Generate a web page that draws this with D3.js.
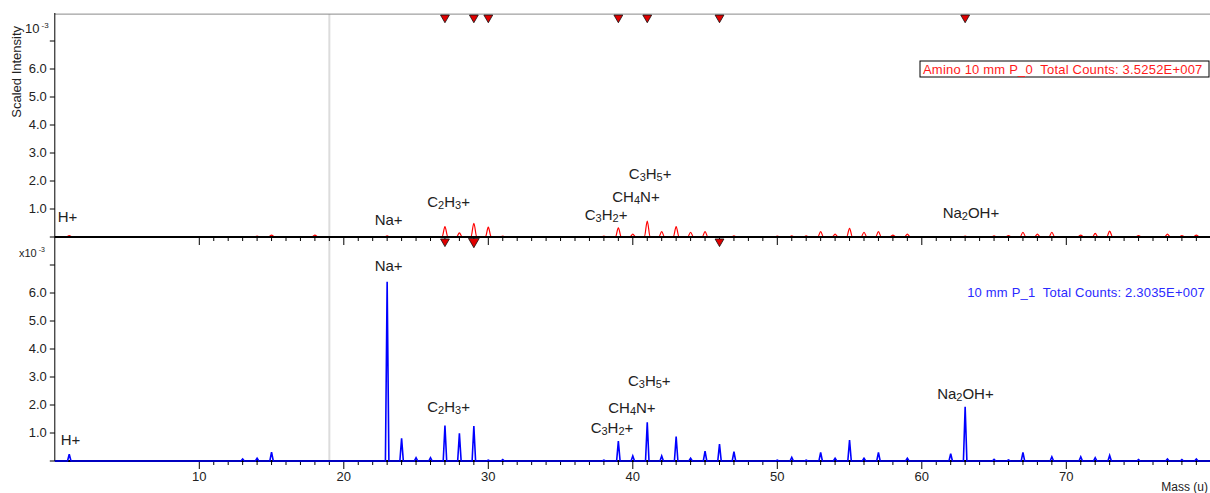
<!DOCTYPE html>
<html>
<head>
<meta charset="utf-8">
<script src="https://cdn.jsdelivr.net/npm/d3@7"></script>
<style>
body{margin:0;background:#fff}
svg{display:block;font-family:"Liberation Sans",Arial,sans-serif}
.pre{white-space:pre}
</style>
</head>
<body>
<svg id="chart" width="1210" height="493"></svg>
<script>
// intensities are in units of 1e-3
const redMass = [1, 14, 15, 18, 23, 27, 28, 29, 30, 31, 38, 39, 40, 41, 42, 43, 44, 45, 47, 50, 51, 52, 53, 54, 55, 56, 57, 58, 59, 63, 65, 66, 67, 68, 69, 71, 72, 73, 75, 77, 78, 79];
const redInt  = [0.05, 0.03, 0.07, 0.07, 0.04, 0.37, 0.15, 0.49, 0.35, 0.03, 0.03, 0.33, 0.1, 0.57, 0.19, 0.37, 0.17, 0.19, 0.04, 0.03, 0.04, 0.04, 0.19, 0.1, 0.31, 0.17, 0.19, 0.07, 0.1, 0.03, 0.04, 0.05, 0.17, 0.1, 0.17, 0.07, 0.13, 0.21, 0.05, 0.1, 0.05, 0.07];

const blueMass = [1, 13, 14, 15, 23, 24, 25, 26, 27, 28, 29, 30, 31, 38, 39, 40, 41, 42, 43, 44, 45, 46, 47, 50, 51, 52, 53, 54, 55, 56, 57, 59, 62, 63, 65, 66, 67, 69, 71, 72, 73, 75, 77, 78, 79];
const blueInt  = [0.24, 0.07, 0.1, 0.32, 6.4, 0.81, 0.12, 0.12, 1.27, 0.99, 1.25, 0.03, 0.05, 0.03, 0.71, 0.18, 1.38, 0.18, 0.87, 0.1, 0.35, 0.6, 0.33, 0.03, 0.13, 0.03, 0.31, 0.1, 0.75, 0.1, 0.31, 0.1, 0.26, 1.94, 0.06, 0.04, 0.31, 0.15, 0.15, 0.12, 0.2, 0.05, 0.07, 0.05, 0.07];

const labelNames   = ["H+", "Na+", "C_2H_3+", "C_3H_2+", "CH_4N+", "C_3H_5+", "Na_2OH+"];
const topLabelMass = [0.88, 23.1, 27.25, 38.15, 40.22, 41.2, 63.4];
const topLabelInt  = [0.71, 0.61, 1.25, 0.79, 1.44, 2.25, 0.86];
const botLabelMass = [1.09, 23.1, 27.25, 38.56, 39.94, 41.14, 63.02];
const botLabelInt  = [0.75, 6.96, 1.94, 1.17, 1.9, 2.87, 2.39];

const topMarkers = [27, 29, 30, 39, 41, 46, 63];
const midMarkers = [27, 29, 46];

const yTicks = [0, 1, 2, 3, 4, 5, 6, 7];
const xTicks = d3.range(10, 80);

const legendTop = "Amino 10 mm P_0  Total Counts: 3.5252E+007";
const legendBot = "10 mm P_1  Total Counts: 2.3035E+007";

const svg = d3.select("#chart");

const x = d3.scaleLinear().domain([0, 80]).range([54.8, 1210.8]);
const yTop = d3.scaleLinear().domain([0, 8]).range([237, 13]);
const yBot = d3.scaleLinear().domain([0, 8]).range([461, 237]);

function peakPoints(mass, inten, hw) {
  const pts = [[0, 0]];
  mass.forEach((m, i) => {
    pts.push([m - hw, 0], [m, inten[i]], [m + hw, 0]);
  });
  pts.push([80, 0]);
  return pts;
}

// gray marker line at 19 u
svg.append("line")
  .attr("x1", x(19)).attr("x2", x(19))
  .attr("y1", yTop(7.96)).attr("y2", yBot(0))
  .attr("stroke", "#dcdcdc").attr("stroke-width", 2);

// top frame line
svg.append("line")
  .attr("x1", x(0)).attr("x2", x(80))
  .attr("y1", yTop(7.96)).attr("y2", yTop(7.96))
  .attr("stroke", "#8a8a8a").attr("stroke-width", 1);

// red spectrum
svg.append("path")
  .datum(peakPoints(redMass, redInt, 0.2))
  .attr("fill", "none")
  .attr("stroke", "#ff0000")
  .attr("stroke-width", 1.2)
  .attr("d", d3.line().curve(d3.curveMonotoneX)
    .x(d => x(d[0]))
    .y(d => yTop(d[1])));

// axes
function cleanTicks(g) {
  g.selectAll(".tick text").filter(function() { return this.textContent === ""; }).remove();
  g.selectAll("text").attr("font-size", 13).attr("fill", "#222")
    .attr("font-family", "Liberation Sans, Arial, sans-serif");
}
function yAxis(g, scale) {
  g.call(d3.axisLeft(scale)
    .tickValues(yTicks)
    .tickFormat(d => (d >= 1 && d <= 6) ? d.toFixed(1) : "")
    .tickSize(5).tickSizeOuter(0).tickPadding(3).offset(0));
  g.select(".domain").attr("stroke", "#000");
  cleanTicks(g);
}
function xAxis(g, labels) {
  g.call(d3.axisBottom(x)
    .tickValues(xTicks)
    .tickFormat(d => (labels && d % 10 === 0) ? d : "")
    .tickSize(4).tickSizeOuter(0).tickPadding(7).offset(0));
  g.select(".domain").attr("stroke", "#000").attr("stroke-width", 1.8);
  g.selectAll(".tick line").attr("y2", d => d % 10 === 0 ? 8 : 4);
  cleanTicks(g);
}

svg.append("g").attr("transform", `translate(${x(0)},0)`).call(yAxis, yTop);
svg.append("g").attr("transform", `translate(${x(0)},0)`).call(yAxis, yBot);
svg.append("g").attr("transform", `translate(0,${yTop(0)})`).call(xAxis, false);
svg.append("g").attr("transform", `translate(0,${yBot(0)})`).call(xAxis, true);

// blue spectrum
svg.append("path")
  .datum(peakPoints(blueMass, blueInt, 0.12))
  .attr("fill", "none")
  .attr("stroke", "#0000ff")
  .attr("stroke-width", 1.6)
  .attr("d", d3.line()
    .x(d => x(d[0]))
    .y(d => yBot(d[1])));

// peak markers
const tri = d3.symbol().type(d3.symbolTriangle);
svg.selectAll(".mk-top").data(topMarkers).join("path")
  .attr("class", "mk-top")
  .attr("d", tri.size(34)())
  .attr("transform", d => `translate(${x(d)},${yTop(7.96) + 3.5}) rotate(180)`)
  .attr("fill", "#e00000").attr("stroke", "#111").attr("stroke-width", 0.8);
svg.selectAll(".mk-mid").data(midMarkers).join("path")
  .attr("class", "mk-mid")
  .attr("d", d => tri.size(d === 29 ? 50 : 34)())
  .attr("transform", d => `translate(${x(d)},${yTop(0) + 4.5}) rotate(180)`)
  .attr("fill", "#e00000").attr("stroke", "#111").attr("stroke-width", 0.8);

// peak labels with subscripts
function addLabels(masses, ints, scale) {
  labelNames.forEach((name, i) => {
    const t = svg.append("text")
      .attr("x", x(masses[i]))
      .attr("y", scale(ints[i]))
      .attr("dy", "0.35em")
      .attr("text-anchor", "middle")
      .attr("font-size", 15)
      .attr("fill", "#222");
    let shifted = false;
    name.split(/(_\d)/).filter(s => s).forEach(part => {
      if (part[0] === "_") {
        t.append("tspan").attr("font-size", 11).attr("dy", 2).text(part.slice(1));
        shifted = true;
      } else {
        t.append("tspan").attr("dy", shifted ? -2 : null).text(part);
        shifted = false;
      }
    });
  });
}
addLabels(topLabelMass, topLabelInt, yTop);
addLabels(botLabelMass, botLabelInt, yBot);

// exponent labels
const e1 = svg.append("text").attr("x", 25).attr("y", yTop(7.45)).attr("dy", "0.35em")
  .attr("font-size", 13).attr("fill", "#222");
e1.append("tspan").text("10");
e1.append("tspan").attr("font-size", 8).attr("dx", 2).attr("dy", -5).text("-3");
const e2 = svg.append("text").attr("x", 19).attr("y", yBot(7.43)).attr("dy", "0.35em")
  .attr("font-size", 11).attr("fill", "#222");
e2.append("tspan").text("x10");
e2.append("tspan").attr("font-size", 7).attr("dx", 2).attr("dy", -5).text("-3");

// y axis title
svg.append("text")
  .attr("transform", `translate(21,${yTop(5.9)}) rotate(-90)`)
  .attr("text-anchor", "middle")
  .attr("font-size", 13).attr("fill", "#222")
  .text("Scaled Intensity");

// x axis title
svg.append("text")
  .attr("x", 1208).attr("y", 491)
  .attr("text-anchor", "end")
  .attr("font-size", 12).attr("fill", "#222")
  .text("Mass (u)");

// legends
svg.append("rect")
  .attr("x", 920).attr("y", 61).attr("width", 289).attr("height", 16)
  .attr("fill", "#fff").attr("stroke", "#000").attr("stroke-width", 1);
svg.append("text")
  .attr("class", "pre")
  .attr("x", 923).attr("y", 69).attr("dy", "0.35em")
  .attr("font-size", 13).attr("letter-spacing", 0.2).attr("fill", "#ff1a1a")
  .text(legendTop);
svg.append("text")
  .attr("class", "pre")
  .attr("x", 1205).attr("y", 292).attr("dy", "0.35em")
  .attr("text-anchor", "end")
  .attr("font-size", 13).attr("letter-spacing", 0.2).attr("fill", "#2a2aff")
  .text(legendBot);
</script>
</body>
</html>
